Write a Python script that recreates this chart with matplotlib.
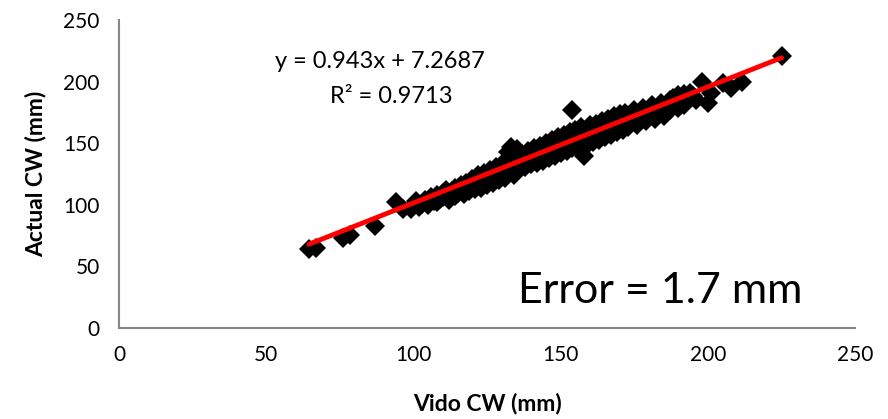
import matplotlib
matplotlib.use("Agg")
import matplotlib.pyplot as plt
import numpy as np

plt.rcParams['font.family'] = ['Lato', 'DejaVu Sans']

vido_cw = [64.5, 67, 76, 78.5, 87, 94, 96.5, 99,
           100, 101, 102, 103, 104, 105, 106, 107, 108, 108, 109, 110, 110, 111, 112, 112,
           113, 114, 114, 115, 116, 116, 117, 118, 118, 119, 120, 120, 121, 121, 122, 122,
           123, 123, 124, 124, 125, 125,
           126, 126, 127, 127, 128, 128, 129, 129, 130, 130, 131, 131, 132, 132, 133, 133,
           134, 134, 135, 135, 136, 136, 137, 137, 138, 138, 139, 139, 140, 140,
           141, 141, 142, 142, 143, 143, 144, 144, 145, 145, 146, 146, 147, 147, 148, 148,
           149, 149, 150, 150, 151, 151, 152, 152, 153, 153, 154, 154, 155, 155,
           156, 156, 157, 157, 158, 158, 159, 159, 160, 160, 161, 161, 162, 162, 163, 163,
           164, 164, 165, 165, 166, 166, 167, 167, 168, 168, 169, 169, 170, 170,
           171, 171, 172, 172, 173, 174, 175, 175, 176, 177, 178, 178, 179, 180, 181, 181,
           182, 183, 184, 184, 185, 186, 187, 187, 188, 189, 190, 190, 191, 192, 193, 194,
           195, 196, 192,
           198, 200, 201, 205, 208, 211.6, 225]
actual_cw = [64, 65, 73, 75.5, 83, 102, 97, 97,
             99, 103, 98, 101, 104, 100, 106, 103, 108, 102, 105, 110, 106, 112, 108, 104,
             111, 114, 107, 110, 116, 112, 109, 118, 114, 111, 121, 116, 113, 119, 124, 117,
             114, 121, 126, 119, 116, 123,
             128, 121, 118, 125, 131, 124, 120, 127, 133, 126, 122, 130, 143, 136, 147, 128,
             139, 124, 145, 132, 137, 129, 141, 134, 131, 139, 144, 136, 133, 140,
             146, 137, 134, 142, 148, 139, 136, 144, 150, 141, 138, 147, 153, 143, 140, 149,
             155, 145, 142, 151, 157, 147, 144, 153, 159, 149, 177, 146, 155, 161,
             151, 147, 157, 163, 140, 153, 159, 149, 165, 155, 151, 161, 166, 157, 153, 163,
             168, 159, 155, 165, 170, 161, 157, 167, 172, 163, 159, 169, 174, 165,
             161, 171, 175, 167, 163, 173, 177, 169, 165, 175, 179, 171, 168, 177, 181, 173,
             170, 179, 183, 175, 172, 181, 185, 177, 187, 183, 189, 179, 185, 190, 186, 191,
             188, 185, 181,
             200, 183, 191, 199, 195, 200, 221]

# linear trendline shown on the chart
slope = 0.943
intercept = 7.2687
r_squared = 0.9713

fig = plt.figure(figsize=(8.88, 4.19), dpi=100, facecolor='white')
ax = fig.add_axes([0.134, 0.217, 0.829, 0.735])

ax.plot(vido_cw, actual_cw, 'D', color='black', markersize=10.5, markeredgewidth=0, zorder=2)
xs = np.array([min(vido_cw), max(vido_cw)])
ax.plot(xs, slope * xs + intercept, color='#ff0000', linewidth=3.5, solid_capstyle='round', zorder=3)

ax.set_xlim(0, 250)
ax.set_ylim(0, 250)
ax.set_xticks([0, 50, 100, 150, 200, 250])
ax.set_yticks([0, 50, 100, 150, 200, 250])
ax.tick_params(length=0, labelsize=15, colors='black')
ax.tick_params(axis='x', pad=12)
ax.tick_params(axis='y', pad=14)
for s in ['top', 'right']:
    ax.spines[s].set_visible(False)
for s in ['left', 'bottom']:
    ax.spines[s].set_color('#868686')
    ax.spines[s].set_linewidth(1.5)

ax.set_xlabel('Vido CW (mm)', fontsize=16.5, fontweight='bold', labelpad=20)
ax.set_ylabel('Actual CW (mm)', fontsize=16.5, fontweight='bold', labelpad=12)

ax.text(88.7, 216, 'y = 0.943x + 7.2687', fontsize=17, ha='center', va='center')
ax.text(92.4, 188, 'R² = %.4f' % r_squared, fontsize=17, ha='center', va='center')
ax.text(183.8, 30, 'Error = 1.7 mm', fontsize=31, ha='center', va='center')

fig.savefig('out.png', dpi=100)
